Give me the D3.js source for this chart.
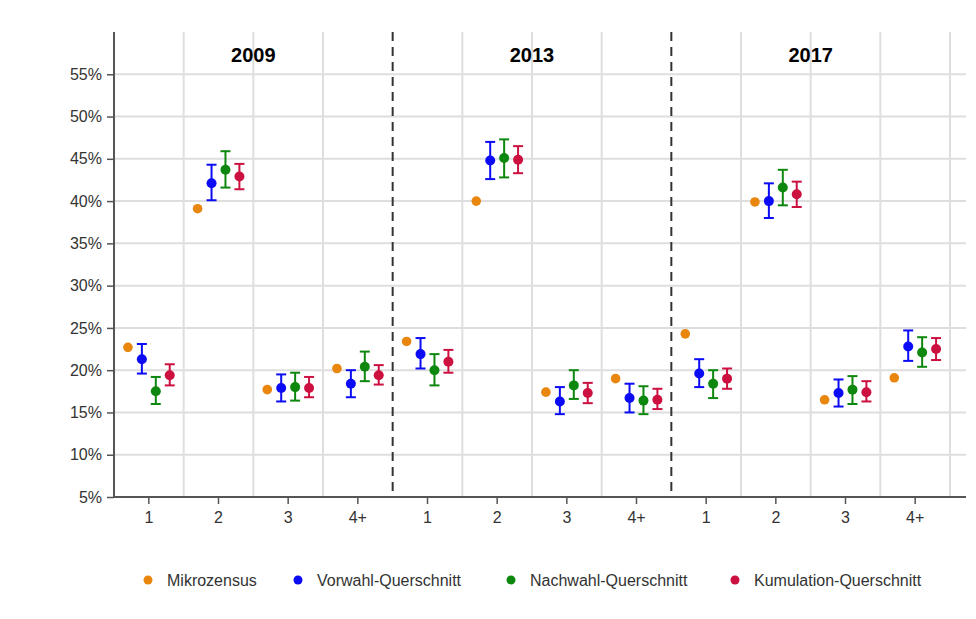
<!DOCTYPE html>
<html>
<head>
<meta charset="utf-8">
<script src="https://cdn.jsdelivr.net/npm/d3@7"></script>
<style>
  html, body { margin: 0; padding: 0; background: #fff; }
  svg { display: block; font-family: "Liberation Sans", Arial, sans-serif; }
</style>
</head>
<body>
<svg id="chart" width="976" height="619"></svg>
<script>
// Election years (panels) and household-size groups within each panel
const years = ["2009", "2013", "2017"];
const groups = ["1", "2", "3", "4+"];

// Series names and colours
const seriesNames = ["Mikrozensus", "Vorwahl-Querschnitt", "Nachwahl-Querschnitt", "Kumulation-Querschnitt"];
const seriesColors = ["#e8860e", "#0b0bf5", "#0d870d", "#cc1040"];

// Shares in percent, ordered 2009 (1,2,3,4+), 2013 (1,2,3,4+), 2017 (1,2,3,4+)
const mikrozensus   = [22.7, 39.1, 17.7, 20.2, 23.4, 40.0, 17.4, 19.0, 24.3, 39.9, 16.5, 19.1];
const vorwahl       = [21.3, 42.1, 17.9, 18.4, 21.9, 44.8, 16.3, 16.7, 19.6, 40.0, 17.3, 22.8];
const vorwahlLo     = [19.6, 40.1, 16.3, 16.8, 20.2, 42.6, 14.8, 15.0, 18.0, 38.0, 15.7, 21.1];
const vorwahlHi     = [23.1, 44.3, 19.5, 20.0, 23.8, 47.0, 18.0, 18.4, 21.3, 42.1, 18.9, 24.7];
const nachwahl      = [17.5, 43.7, 18.0, 20.4, 20.0, 45.1, 18.2, 16.4, 18.4, 41.6, 17.7, 22.1];
const nachwahlLo    = [16.0, 41.6, 16.4, 18.7, 18.2, 42.8, 16.6, 14.8, 16.7, 39.5, 16.0, 20.4];
const nachwahlHi    = [19.2, 45.9, 19.7, 22.2, 21.9, 47.3, 20.0, 18.1, 20.0, 43.7, 19.3, 23.9];
const kumulation    = [19.4, 42.9, 17.9, 19.4, 21.0, 44.9, 17.3, 16.5, 19.0, 40.8, 17.4, 22.5];
const kumulationLo  = [18.2, 41.4, 16.8, 18.3, 19.7, 43.3, 16.1, 15.4, 17.8, 39.3, 16.3, 21.2];
const kumulationHi  = [20.7, 44.4, 19.2, 20.6, 22.4, 46.5, 18.5, 17.8, 20.2, 42.3, 18.7, 23.8];

// Y axis ticks (percent)
const yTicks = [5, 10, 15, 20, 25, 30, 35, 40, 45, 50, 55];

const svg = d3.select("#chart");
const plotLeft = 114, plotRight = 950, plotTop = 32, plotBottom = 497, axisEnd = 966;

// One band per year/group combination
const keys = years.flatMap(yr => groups.map(g => yr + "|" + g));
const x = d3.scaleBand().domain(keys).range([plotLeft, plotRight]).padding(0);
const bw = x.bandwidth();
const offset = d3.scalePoint().domain(seriesNames).range([-0.3 * bw, 0.3 * bw]);
const y = d3.scaleLinear().domain([5, 60]).range([plotBottom, plotTop]);

// Horizontal gridlines
svg.append("g").selectAll("line").data(yTicks.slice(1)).join("line")
  .attr("x1", plotLeft).attr("x2", axisEnd)
  .attr("y1", d => y(d)).attr("y2", d => y(d))
  .attr("stroke", "#dedede").attr("stroke-width", 2);

// Vertical band separators: light gridlines, dashed between years
const isDivider = i => i % 4 === 3 && i < keys.length - 1;
svg.append("g").selectAll("line").data(keys).join("line")
  .attr("x1", d => x(d) + bw).attr("x2", d => x(d) + bw)
  .attr("y1", plotTop).attr("y2", plotBottom)
  .attr("stroke", (d, i) => isDivider(i) ? "#333" : "#dedede")
  .attr("stroke-width", 2)
  .attr("stroke-dasharray", (d, i) => isDivider(i) ? "9,6" : null);

// Y axis
const yAxis = svg.append("g").attr("transform", `translate(${plotLeft},0)`)
  .call(d3.axisLeft(y).tickValues(yTicks).tickFormat(d => d + "%").tickSize(7).tickPadding(5));
yAxis.select(".domain").attr("stroke", "#555").attr("stroke-width", 2)
  .attr("d", `M0,${plotTop}V${plotBottom}`);
yAxis.selectAll(".tick line").attr("stroke", "#555").attr("stroke-width", 1.5);
yAxis.selectAll(".tick text").attr("font-size", 16).attr("fill", "#333")
  .attr("font-family", "'Liberation Sans', Arial, sans-serif");

// X axis
const xAxis = svg.append("g").attr("transform", `translate(0,${plotBottom})`)
  .call(d3.axisBottom(x).tickFormat(k => k.split("|")[1]).tickSize(7).tickPadding(8));
xAxis.select(".domain").attr("stroke", "#555").attr("stroke-width", 2)
  .attr("d", `M${plotLeft},0H${axisEnd}`);
xAxis.selectAll(".tick line").attr("stroke", "#555").attr("stroke-width", 1.5);
xAxis.selectAll(".tick text").attr("font-size", 16).attr("fill", "#333")
  .attr("font-family", "'Liberation Sans', Arial, sans-serif");

// Year titles centred over each panel
svg.append("g").selectAll("text").data(years).join("text")
  .attr("x", d => (x(d + "|1") + x(d + "|4+") + bw) / 2)
  .attr("y", 62)
  .attr("text-anchor", "middle")
  .attr("font-size", 20).attr("font-weight", "bold").attr("fill", "#000")
  .text(d => d);

// Build plotted rows from the arrays
const estimates = [
  { name: seriesNames[1], v: vorwahl, lo: vorwahlLo, hi: vorwahlHi },
  { name: seriesNames[2], v: nachwahl, lo: nachwahlLo, hi: nachwahlHi },
  { name: seriesNames[3], v: kumulation, lo: kumulationLo, hi: kumulationHi }
];
const color = d3.scaleOrdinal().domain(seriesNames).range(seriesColors);
const cx = (k, s) => x(k) + bw / 2 + offset(s);

// Census reference points
svg.append("g").selectAll("circle").data(mikrozensus).join("circle")
  .attr("cx", (d, i) => cx(keys[i], seriesNames[0]))
  .attr("cy", d => y(d))
  .attr("r", 4.8)
  .attr("fill", color(seriesNames[0]));

// Survey estimates with confidence intervals
const capW = 5;
estimates.forEach(s => {
  const g = svg.append("g").attr("stroke", color(s.name)).attr("fill", color(s.name));
  const rows = s.v.map((v, i) => ({ k: keys[i], v, lo: s.lo[i], hi: s.hi[i] }));
  g.selectAll(".stem").data(rows).join("line").attr("class", "stem")
    .attr("x1", d => cx(d.k, s.name)).attr("x2", d => cx(d.k, s.name))
    .attr("y1", d => y(d.lo)).attr("y2", d => y(d.hi)).attr("stroke-width", 2);
  g.selectAll(".capTop").data(rows).join("line").attr("class", "capTop")
    .attr("x1", d => cx(d.k, s.name) - capW).attr("x2", d => cx(d.k, s.name) + capW)
    .attr("y1", d => y(d.hi)).attr("y2", d => y(d.hi)).attr("stroke-width", 2);
  g.selectAll(".capBot").data(rows).join("line").attr("class", "capBot")
    .attr("x1", d => cx(d.k, s.name) - capW).attr("x2", d => cx(d.k, s.name) + capW)
    .attr("y1", d => y(d.lo)).attr("y2", d => y(d.lo)).attr("stroke-width", 2);
  g.selectAll("circle").data(rows).join("circle")
    .attr("cx", d => cx(d.k, s.name)).attr("cy", d => y(d.v))
    .attr("r", 5).attr("stroke", "none");
});

// Legend
const legendX = [148, 298, 511, 735];
const legend = svg.append("g").selectAll("g").data(seriesNames).join("g")
  .attr("transform", (d, i) => `translate(${legendX[i]},580)`);
legend.append("circle").attr("r", 4.5).attr("fill", d => color(d));
legend.append("text").attr("x", 19).attr("y", 6)
  .attr("font-size", 16).attr("fill", "#333").text(d => d);
</script>
</body>
</html>
